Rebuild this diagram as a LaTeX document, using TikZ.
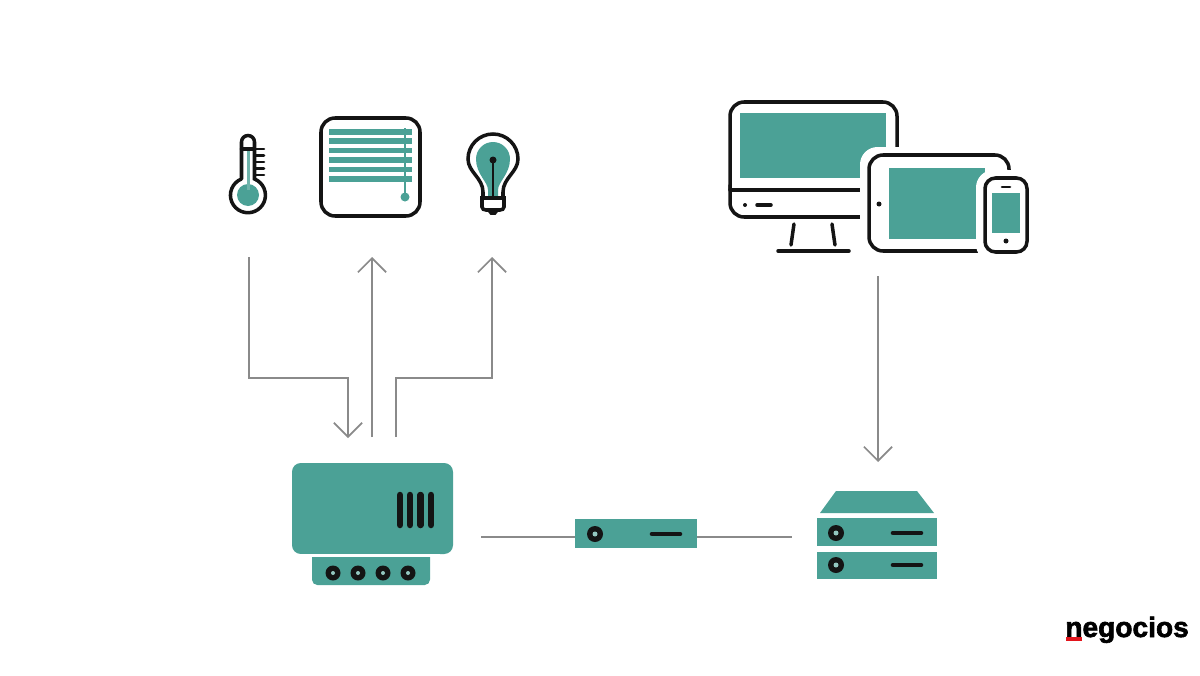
\documentclass[tikz,border=0pt]{standalone}
\usepackage{fontspec}
\setmainfont{Liberation Sans}
\newfontfamily\logofont[BoldFeatures={FakeBold=2.2}]{Liberation Sans}
\usetikzlibrary{arrows.meta}
\definecolor{iconteal}{HTML}{4BA196}
\definecolor{wiregrey}{HTML}{8A8A8A}
\definecolor{iconink}{HTML}{141414}
\definecolor{logored}{HTML}{E2141C}
\tikzset{
    wire/.style = {draw = wiregrey, line width = 1pt},
    feed/.style = {wire, -{Straight Barb[length = 8pt, width = 16pt]}},
    ink/.style = {draw = iconink, line width = 2pt, line cap = round},
    slat/.style = {fill = iconteal, draw = none},
    box/.style = {fill = iconteal, draw = none, inner sep = 0pt, outer sep = 0pt, rectangle},
    halo/.style = {fill = white, draw = none, rounded corners = 10}
}
\begin{document}
\begin{tikzpicture}[x = 0.02cm, y = -0.02cm]
    \useasboundingbox (0, 0) rectangle (1200, 676);
    % thermometer
    \fill [iconteal] (248, 195) circle [radius = 11];
    \fill [iconteal!80!white] (246.5, 150) rectangle (249.5, 190);
    \draw [ink] (241.5, 179) -- (241.5, 142) arc [start angle = 180, end angle = 360, radius = 6.5] -- (254.5, 179)
        arc [start angle = -68, end angle = 248, radius = 17.5];
    \draw [ink] (241.5, 149) -- (254.5, 149);
    \foreach \y in {149, 155.5, 162, 168.5, 175}
        \draw [ink, line width = 1.5pt] (255, \y) -- (264, \y);
    % blinds
    \draw [ink, rounded corners = 8] (321, 118) rectangle (420, 216);
    \foreach \y in {132, 141, 150.5, 160, 169.5, 179}
        \fill [slat] (329, \y - 2.7) rectangle (412, \y + 2.7);
    \draw [iconteal, line width = 1pt] (405, 128) -- (405, 197);
    \fill [iconteal] (405, 197) circle [radius = 4.5];
    % bulb
    \fill [iconteal] (488, 197) -- (488, 190) .. controls (488, 182) and (476, 174) .. (476, 159)
        arc [start angle = 180, end angle = 360, radius = 17]
        .. controls (510, 174) and (498, 182) .. (498, 190) -- (498, 197) -- cycle;
    \draw [ink] (483, 198) -- (483, 192) .. controls (483, 178) and (468, 172) .. (468, 159)
        arc [start angle = 180, end angle = 360, radius = 25]
        .. controls (518, 172) and (503, 178) .. (503, 192) -- (503, 198);
    \draw [ink] (482, 198) -- (504, 198) -- (504, 207) .. controls (504, 209) and (502, 210) .. (500, 210)
        -- (486, 210) .. controls (484, 210) and (482, 209) .. (482, 207) -- cycle;
    \draw [ink, line width = 1.5pt] (489, 211) -- (491, 213.5) -- (495, 213.5) -- (497, 211);
    \draw [ink, line width = 1.5pt] (493, 160) -- (493, 198);
    \fill [iconink] (493, 160) circle [radius = 3.5];
    % monitor
    \fill [iconteal] (740, 113) rectangle (886, 178);
    \draw [ink, rounded corners = 8] (730, 190) -- (730, 102) -- (897, 102) -- (897, 190);
    \draw [ink, rounded corners = 8] (730, 185) -- (730, 217) -- (890, 217);
    \draw [ink] (730, 190) -- (890, 190);
    \fill [iconink] (745, 205) circle [radius = 2];
    \draw [ink] (757, 205) -- (771, 205);
    \draw [ink] (794, 224) -- (791, 245);
    \draw [ink] (832, 224) -- (835, 245);
    \draw [ink] (778, 251) -- (849, 251);
    % tablet
    \fill [halo] (860, 147) rectangle (1040, 262);
    \fill [iconteal] (889, 168) rectangle (985, 239);
    \draw [ink, rounded corners = 8] (980, 251) -- (869, 251) -- (869, 155) -- (1009, 155) -- (1009, 180);
    \fill [iconink] (879, 204) circle [radius = 2.5];
    % phone
    \fill [halo] (976, 170) rectangle (1036, 262);
    \draw [ink, rounded corners = 6] (985, 178) rectangle (1027, 252);
    \fill [iconteal] (992, 193) rectangle (1020, 233);
    \draw [ink, line width = 1.5pt] (1002, 187) -- (1010, 187);
    \fill [iconink] (1006, 241) circle [radius = 2.5];
    % controller
    \node [box, rounded corners = 5pt, minimum width = 161 * 0.02cm, minimum height = 91 * 0.02cm] (controller) at (372.5, 508.5) {};
    \foreach \x in {400, 410, 420.5, 431}
        \draw [ink, line width = 3.7pt, line cap = round] (\x, 495) -- (\x, 525);
    \fill [iconteal, rounded corners = 3pt] (312, 550) rectangle (430, 585);
    \fill [white] (300, 554) rectangle (440, 557);
    \fill [iconteal] (312, 557) rectangle (430, 565);
    \foreach \x in {333, 358, 383, 408} {
        \fill [iconink] (\x, 573) circle [radius = 7.5];
        \fill [iconteal!60!white] (\x, 573) circle [radius = 2];
    }
    % switch
    \node [box, minimum width = 122 * 0.02cm, minimum height = 29 * 0.02cm] (switch) at (636, 533.5) {};
    \fill [iconink] (595, 534) circle [radius = 8];
    \fill [iconteal!60!white] (595, 534) circle [radius = 2.5];
    \draw [ink, line width = 2.6pt] (652, 534) -- (680, 534);
    % server
    \node [box, minimum width = 120 * 0.02cm, minimum height = 28 * 0.02cm] (serverup) at (877, 532) {};
    \node [box, minimum width = 120 * 0.02cm, minimum height = 27 * 0.02cm] (serverdown) at (877, 565.5) {};
    \fill [iconteal] (820, 513) -- (836, 491) -- (917, 491) -- (934, 513) -- cycle;
    \foreach \y in {533, 565} {
        \fill [iconink] (836, \y) circle [radius = 8];
        \fill [iconteal!60!white] (836, \y) circle [radius = 2.5];
        \draw [ink, line width = 2.6pt] (893, \y) -- (921, \y);
    }
    % connectors
    \coordinate (thermout) at (249, 257);
    \coordinate (thermin) at (348, 438);
    \coordinate (blindout) at (372, 437);
    \coordinate (blindin) at (372, 257);
    \coordinate (bulbout) at (396, 437);
    \coordinate (bulbin) at (492, 257);
    \coordinate (deviceout) at (878, 276);
    \coordinate (serverin) at (878, 462);
    \coordinate (linkleft) at (481, 537);
    \coordinate (linkright) at (792, 537);
    \draw [feed] (thermout) |- (300, 378) -| (thermin);
    \draw [feed] (blindout) -- (blindin);
    \draw [feed] (bulbout) |- (440, 378) -| (bulbin);
    \draw [feed] (deviceout) -- (serverin);
    \draw [wire, line width = 1.4pt] (linkleft) -- (switch.west |- linkleft);
    \draw [wire, line width = 1.4pt] (switch.east |- linkright) -- (linkright);
    % logo
    \node [inner sep = 0pt, anchor = base west, font = \logofont\fontsize{16}{16}\selectfont\bfseries] (logo) at (1065, 637) {negocios};
    \fill [logored] (1066, 637) rectangle (1082, 641);
\end{tikzpicture}
\end{document}
